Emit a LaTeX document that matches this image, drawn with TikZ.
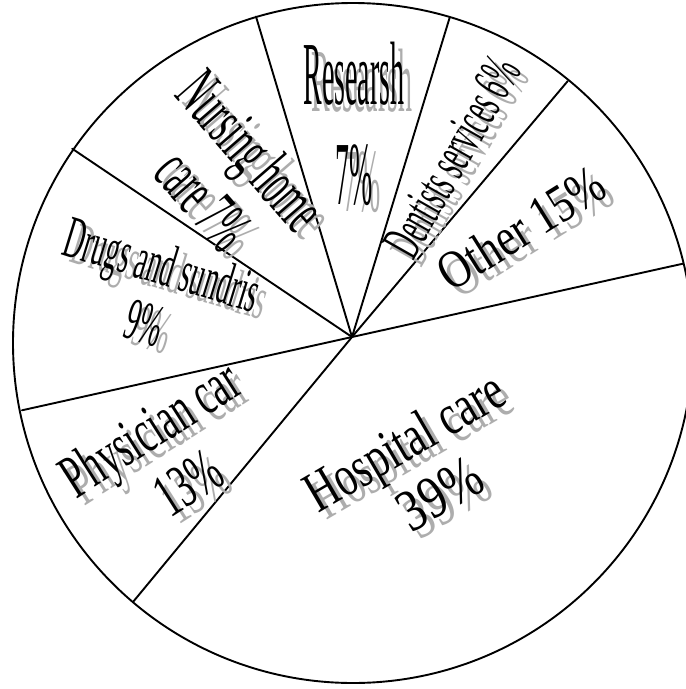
\documentclass[tikz,border=0pt]{standalone}
\usepackage{fontspec}
\setmainfont{Liberation Serif}
\usetikzlibrary{calc}
\definecolor{shade}{gray}{0.68}
\tikzset{
  pie/.style={line width=1.9pt, line cap=round, line join=round},
  lbl/.style={inner sep=0pt, outer sep=0pt, text=black},
}
% shadowed label: name, position, rotation, font and scaling keys, text
\newcommand\pielabel[5]{%
  \node[lbl, text=shade, rotate=#3, #4] (#1-sh) at ($(#2)+(8,7)$) {#5};
  \node[lbl, rotate=#3, #4] (#1) at (#2) {#5};
}
\begin{document}
\begin{tikzpicture}[x=1pt, y=-1pt]
  \useasboundingbox (0,0) rectangle (686,689);
  \fill[white] (0,0) rectangle (686,689);

  % outline and hub
  \coordinate (o) at (353,343);
  \coordinate (hub) at (352,337);
  \draw[pie] (o) circle[radius=340pt];

  % rim points between slices
  \coordinate (nr) at (256,16.6);
  \coordinate (rd) at (449.7,17.5);
  \coordinate (do) at (567.8,81);
  \coordinate (oh) at (682.4,263.8);
  \coordinate (hp) at (133.4,601.5);
  \coordinate (pd) at (21.9,410.3);
  \coordinate (dn) at (72.2,148.7);
  \foreach \p in {nr,rd,do,oh,hp,pd,dn}
    \draw[pie] (hub) -- (\p);

  % slice labels
  \pielabel{res1}{354,74}{0}{font=\fontsize{90}{100}\selectfont, xscale=0.31}{Researsh}
  \pielabel{res2}{354,175}{0}{font=\fontsize{90}{100}\selectfont, xscale=0.31}{7\%}

  \pielabel{nur1}{247,155}{-49}{font=\fontsize{68}{76}\selectfont, xscale=0.48}{Nursing home}
  \pielabel{nur2}{203,200}{-49}{font=\fontsize{68}{76}\selectfont, xscale=0.48}{care 7\%}

  \pielabel{den}{452,157}{60.4}{font=\fontsize{56}{62}\selectfont, xscale=0.47}{Dentists services 6\%}

  \pielabel{oth}{521,228}{32}{font=\fontsize{54}{60}\selectfont, xscale=0.79}{Other 15\%}

  \pielabel{drg1}{161,270}{-17}{font=\fontsize{60}{66}\selectfont, xscale=0.46}{Drugs and sundris}
  \pielabel{drg2}{145,323}{-17}{font=\fontsize{60}{66}\selectfont, xscale=0.46}{9\%}

  \pielabel{phy1}{153,433}{32.5}{font=\fontsize{62}{68}\selectfont, xscale=0.60}{Physician car}
  \pielabel{phy2}{188,483}{32.5}{font=\fontsize{62}{68}\selectfont, xscale=0.60}{13\%}

  \pielabel{hos1}{407,446}{30.3}{font=\fontsize{58}{64}\selectfont, xscale=0.72}{Hospital care}
  \pielabel{hos2}{440,494}{30.3}{font=\fontsize{60}{66}\selectfont, xscale=0.80}{39\%}
\end{tikzpicture}
\end{document}
